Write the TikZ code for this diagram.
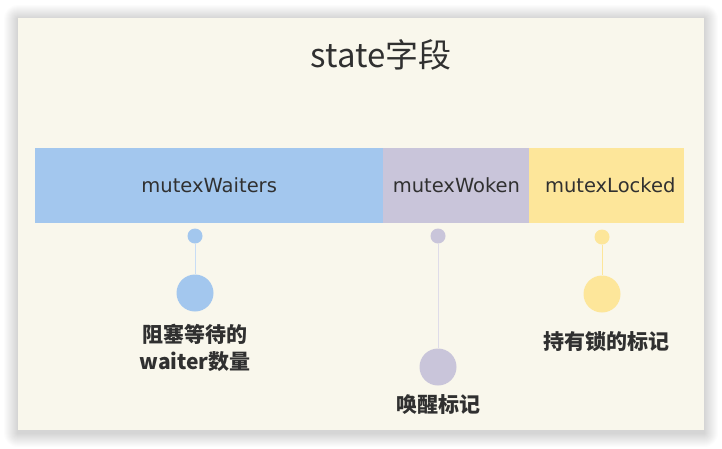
\documentclass[tikz,border=0pt]{standalone}
\usepackage{fontspec}
\setmainfont{Noto Sans CJK SC}
\newfontfamily\fieldfont{DejaVu Sans}
\usepackage{tikz}
\usetikzlibrary{positioning}
\usepackage{xcolor}
\definecolor{cardbg}{RGB}{249,247,236}
\definecolor{ink}{RGB}{48,48,48}
\definecolor{fieldblue}{RGB}{163,199,238}
\definecolor{fieldpurple}{RGB}{201,197,218}
\definecolor{fieldyellow}{RGB}{253,230,154}

\begin{document}
\begin{tikzpicture}[x=1pt, y=-1pt,
  field/.style={fill=#1, draw=#1, line width=0.8pt, outer sep=0pt, minimum height=74pt, inner sep=0pt,
                text=ink, font=\fieldfont\fontsize{19.5}{22}\selectfont},
  smalldot/.style={circle, fill=#1, minimum size=15pt, inner sep=0pt},
  bigdot/.style={circle, fill=#1, minimum size=37pt, inner sep=0pt},
  note/.style={text=ink, align=center, font=\bfseries\fontsize{21}{27}\selectfont}]
  \useasboundingbox (0,0) rectangle (722,448);
  \fill[white] (0,0) rectangle (722,448);
  % soft shadow, built up from faint layers
  \foreach \i in {1,...,14}
    \fill[black, opacity=0.011, rounded corners=\i pt] (18-\i,19-\i) rectangle (704+\i,433+\i);
  \node[fill=cardbg, minimum width=686pt, minimum height=412pt, inner sep=0pt] (card) at (361,224) {};
  \node[text=ink, font=\fontsize{33}{38}\selectfont] (title) at (381,55) {state字段};

  % the three bit fields
  \node[field=fieldblue, minimum width=348.4pt, anchor=west] (waiters) at (35,185.5) {mutexWaiters};
  \node[field=fieldpurple, minimum width=146pt, right=0pt of waiters] (woken) {mutexWoken};
  \node[field=fieldyellow, minimum width=153.6pt, right=0pt of woken] (locked) {\hspace{8pt}mutexLocked};

  % markers and notes
  \node[smalldot=fieldblue] (wdot) at (195,236) {};
  \node[bigdot=fieldblue] (wbig) at (195,293) {};
  \node[note] (wnote) at (195,348) {阻塞等待的\\waiter数量};
  \draw[fieldblue!60!white, thick] (wdot) -- (wbig);

  \node[smalldot=fieldpurple] (kdot) at (438,236) {};
  \node[bigdot=fieldpurple] (kbig) at (438,367) {};
  \node[note] (knote) at (438,405) {唤醒标记};
  \draw[fieldpurple!60!white, thick] (kdot) -- (kbig);

  \node[smalldot=fieldyellow] (ldot) at (602,237) {};
  \node[bigdot=fieldyellow] (lbig) at (602,294) {};
  \node[note] (lnote) at (606,342) {持有锁的标记};
  \draw[fieldyellow, thick] (ldot) -- (lbig);
\end{tikzpicture}
\end{document}
